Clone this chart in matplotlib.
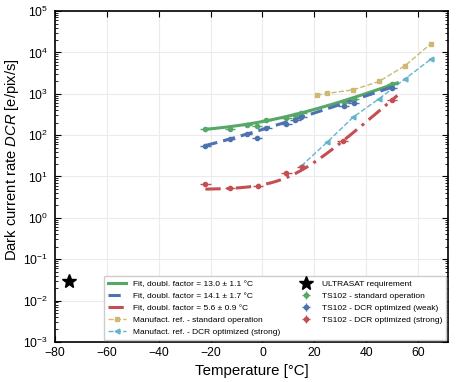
import numpy as np
import matplotlib.pyplot as plt

plt.rcParams['font.family'] = ['Liberation Sans', 'DejaVu Sans']
plt.rcParams['mathtext.fontset'] = 'custom'
plt.rcParams['mathtext.rm'] = 'Liberation Sans'
plt.rcParams['mathtext.it'] = 'Liberation Sans:italic'
plt.rcParams['mathtext.default'] = 'regular'

# measured points (TS102)
t_std = [-22, -12.6, -6, -2, 1.5, 9.2, 12.7, 15, 31.3, 35.1, 50]
dcr_std = [140, 141, 178, 162, 231, 258, 305, 341, 650, 757, 1710]

t_weak = [-22, -12.6, -6, -2, 1.5, 9.2, 12.7, 15, 31.3, 35.1, 50]
dcr_weak = [56, 80, 107, 83, 148, 185, 235, 273, 493, 593, 1380]

t_strong = [-22, -12.6, -1.8, 9.2, 15.3, 30.9, 50]
dcr_strong = [6.5, 5.2, 5.9, 12.3, 17.4, 73, 710]

# manufacturer references
t_man_std = [21, 25, 35, 45, 55, 65]
dcr_man_std = [930, 1020, 1250, 1990, 4800, 16400]

t_man_opt = [15, 25, 35, 45, 55, 65]
dcr_man_opt = [18, 68, 273, 760, 2300, 6900]

# requirement
t_req = [-74.5]
dcr_req = [0.03]

# fit parameters: DCR = C + A * 2**(T / d)
fit_d = [13.0, 14.1, 5.6]
fit_A = [108, 122.9, 1.45]
fit_C = [105, 14.3, 4.85]
fit_labels = ['Fit, doubl. factor = 13.0 ± 1.1 °C',
              'Fit, doubl. factor = 14.1 ± 1.7 °C',
              'Fit, doubl. factor = 5.6 ± 0.9 °C']

green = '#55A868'
blue = '#4C72B0'
red = '#C44E52'
tan = '#CCB974'
cyan = '#64B5CD'

fig = plt.figure(figsize=(4.58, 3.82), dpi=100)
ax = fig.add_axes([0.120, 0.105, 0.858, 0.866])

T = np.linspace(-22, 52, 200)
styles = [(green, '-'), (blue, (0, (4, 2))), (red, (0, (5, 2, 1, 2)))]
for d, A, C, lab, (col, ls) in zip(fit_d, fit_A, fit_C, fit_labels, styles):
    ax.plot(T, C + A * 2 ** (T / d), color=col, ls=ls, lw=2.2, label=lab, zorder=3)

ax.plot(t_man_std, dcr_man_std, ls='--', lw=1, color=tan, marker='s', ms=3.5,
        label='Manufact. ref. - standard operation', zorder=2)
ax.plot(t_man_opt, dcr_man_opt, ls='--', lw=1, color=cyan, marker='<', ms=3.5,
        label='Manufact. ref. - DCR optimized (strong)', zorder=2)

ax.plot(t_req, dcr_req, ls='none', marker='*', ms=10, color='black',
        label='ULTRASAT requirement')

for t, v, col, lab in [(t_std, dcr_std, green, 'TS102 - standard operation'),
                       (t_weak, dcr_weak, blue, 'TS102 - DCR optimized (weak)'),
                       (t_strong, dcr_strong, red, 'TS102 - DCR optimized (strong)')]:
    v = np.array(v)
    ax.errorbar(t, v, xerr=2, yerr=0.08 * v, fmt='o', ms=3, color=col,
                elinewidth=1, capsize=0, label=lab, zorder=4)

ax.set_yscale('log')
ax.set_xlim(-80, 71.5)
ax.set_ylim(1e-3, 1e5)
ax.set_xticks([-80, -60, -40, -20, 0, 20, 40, 60])
ax.set_yticks([10.0 ** k for k in range(-3, 6)])
ax.grid(True, color='#ebebeb', lw=0.8)
ax.set_axisbelow(True)
ax.tick_params(which='both', direction='in', top=True, right=True, labelsize=8.7)
ax.tick_params(which='major', length=4)
ax.tick_params(which='minor', length=2)
ax.tick_params(axis='y', pad=5)
ax.tick_params(axis='x', pad=4)
for s in ax.spines.values():
    s.set_color('black')
    s.set_linewidth(1.2)

ax.set_xlabel('Temperature [°C]', fontsize=10.8, labelpad=3)
ax.set_ylabel('Dark current rate $\\it{DCR}$ [e/pix/s]', fontsize=10.6)
ax.yaxis.set_label_coords(-0.087, 0.55)

ax.legend(loc='lower right', ncol=2, fontsize=6.0, frameon=True, framealpha=1,
          edgecolor='#cccccc', handlelength=2.2, handletextpad=0.8,
          borderaxespad=0.2, columnspacing=2.0, labelspacing=0.5,
          borderpad=0.5)

fig.savefig('out.png', dpi=100)
